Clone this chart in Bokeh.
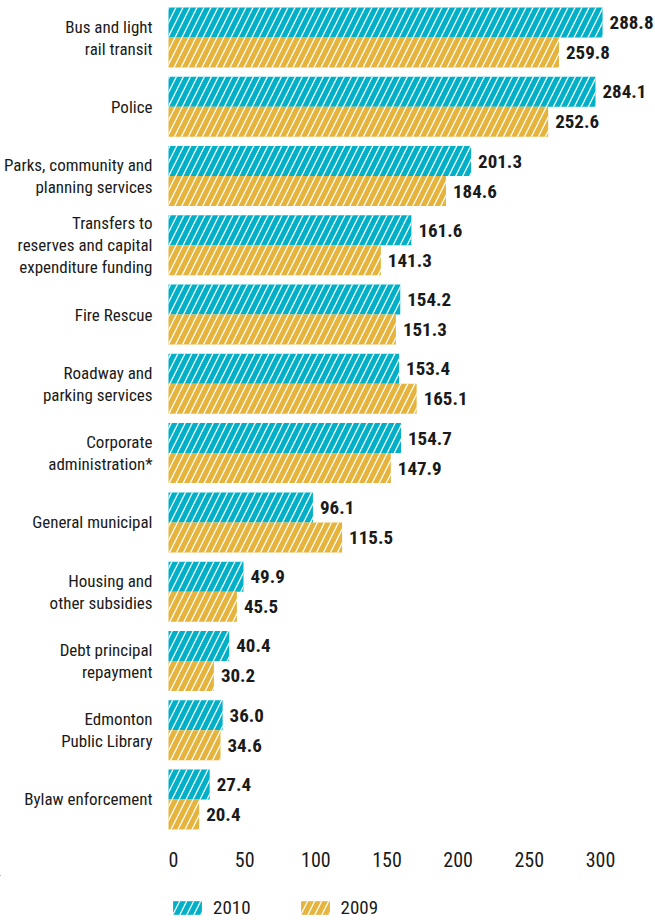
from bokeh.plotting import figure
from bokeh.layouts import column
from bokeh.models import (Range1d, LinearAxis, FixedTicker, ColumnDataSource, Legend,
                          LegendItem)
from bokeh.core.properties import value
from bokeh.embed import file_html
from bokeh.resources import INLINE

categories = [
    "Bus and light\nrail transit",
    "Police",
    "Parks, community and\nplanning services",
    "Transfers to\nreserves and capital\nexpenditure funding",
    "Fire Rescue",
    "Roadway and\nparking services",
    "Corporate\nadministration*",
    "General municipal",
    "Housing and\nother subsidies",
    "Debt principal\nrepayment",
    "Edmonton\nPublic Library",
    "Bylaw enforcement",
]
values_2010 = [288.8, 284.1, 201.3, 161.6, 154.2, 153.4, 154.7, 96.1, 49.9, 40.4, 36.0, 27.4]
values_2009 = [259.8, 252.6, 184.6, 141.3, 151.3, 165.1, 147.9, 115.5, 45.5, 30.2, 34.6, 20.4]
series_names = ["2010", "2009"]
tick_values = [0, 50, 100, 150, 200, 250, 300]

FONT = "'Roboto Condensed', 'DejaVu Sans Condensed', Roboto"
C2010 = "#00B0C8"
C2009 = "#E6B43C"
INK = "#1a1a1a"

W = 655
PITCH = 69.27     # px per category group
TOP = 7           # px above first group
FRAME_H = 832
X0 = 168          # px where value 0 sits
SCALE = 1.503     # px per unit for bars
TX0 = 173         # px where tick 0 sits
TSCALE = 1.4233   # px per unit for tick labels
BAR_H = 30 / PITCH

n = len(categories)
idx = list(range(n))
src = ColumnDataSource(dict(
    cat=categories,
    v10=values_2010,
    v09=values_2009,
    t10=[f"{v:.1f}" for v in values_2010],
    t09=[f"{v:.1f}" for v in values_2009],
    y10=[i + BAR_H / 2 for i in idx],
    y09=[i + 1.5 * BAR_H for i in idx],
    ycat=[i + BAR_H for i in idx],
))

p = figure(frame_width=W, frame_height=FRAME_H, output_backend="svg", toolbar_location=None,
           x_range=Range1d(-X0 / SCALE, (W - X0) / SCALE),
           y_range=Range1d((FRAME_H - TOP) / PITCH, -TOP / PITCH),
           x_axis_location=None, y_axis_location=None, min_border=0, min_border_bottom=43,
           outline_line_color=None, background_fill_color="white", border_fill_color="white")
p.grid.visible = False

hatch = dict(hatch_pattern="/", hatch_color="white", hatch_weight=1.3, hatch_scale=14,
             line_color=None)
r10 = p.hbar(y="y10", left=0, right="v10", height=BAR_H, fill_color=C2010, source=src, **hatch)
r09 = p.hbar(y="y09", left=0, right="v09", height=BAR_H, fill_color=C2009, source=src, **hatch)

lab = dict(text_align="left", text_baseline="middle", text_font=value(FONT),
           text_font_style="bold", text_font_size="19px", text_color=INK, x_offset=7)
p.text(x="v10", y="y10", text="t10", source=src, **lab)
p.text(x="v09", y="y09", text="t09", source=src, **lab)

p.text(x=0, y="ycat", text="cat", source=src, x_offset=-16, text_align="right",
       text_baseline="middle", text_font=value(FONT), text_font_size="17px",
       text_line_height=1.1, text_color=INK)

p.extra_x_ranges = {"ticks": Range1d(-TX0 / TSCALE, (W - TX0) / TSCALE)}
axis = LinearAxis(x_range_name="ticks", ticker=FixedTicker(ticks=tick_values),
                  axis_line_color=None, major_tick_line_color=None, minor_tick_line_color=None,
                  major_tick_out=0, major_tick_in=0,
                  major_label_standoff=19, major_label_text_font=FONT,
                  major_label_text_font_size="20px", major_label_text_color=INK)
p.add_layout(axis, "below")

# legend strip below the axis (same series; its view window is kept clear of the bars)
LEG_H = 45
p2 = figure(width=W, height=LEG_H, output_backend="svg", toolbar_location=None,
            x_range=Range1d(1000, 1001), y_range=Range1d(-2, -1),
            x_axis_location=None, y_axis_location=None, min_border=0,
            outline_line_color=None, background_fill_color="white", border_fill_color="white")
p2.grid.visible = False
k10 = p2.hbar(y="y10", left=0, right="v10", height=BAR_H, fill_color=C2010, source=src, **hatch)
k09 = p2.hbar(y="y09", left=0, right="v09", height=BAR_H, fill_color=C2009, source=src, **hatch)
legend = Legend(items=[LegendItem(label=series_names[0], renderers=[k10]),
                       LegendItem(label=series_names[1], renderers=[k09])],
                orientation="horizontal", location=(169, 1), glyph_width=36, glyph_height=17,
                label_standoff=8, spacing=46, border_line_color=None, background_fill_alpha=0,
                padding=0, margin=0, label_text_font=FONT, label_text_font_size="19px",
                label_text_color=INK)
p2.add_layout(legend, "center")

open("out.html", "w").write(file_html(column(p, p2, spacing=0), INLINE))
